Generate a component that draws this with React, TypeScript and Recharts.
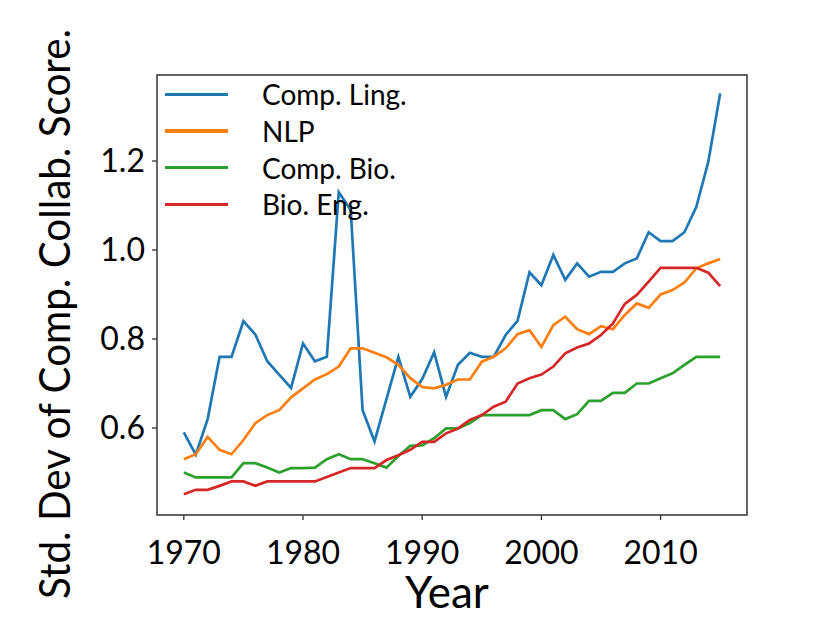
import { LineChart, Line, XAxis, YAxis, Legend, ReferenceArea } from 'recharts';

const years = [
    1970, 1971, 1972, 1973, 1974, 1975, 1976, 1977, 1978, 1979,
    1980, 1981, 1982, 1983, 1984, 1985, 1986, 1987, 1988, 1989,
    1990, 1991, 1992, 1993, 1994, 1995, 1996, 1997, 1998, 1999,
    2000, 2001, 2002, 2003, 2004, 2005, 2006, 2007, 2008, 2009,
    2010, 2011, 2012, 2013, 2014, 2015,
];

const compLing = [
    0.59, 0.54, 0.62, 0.76, 0.76, 0.84, 0.81, 0.75, 0.72, 0.69,
    0.79, 0.75, 0.76, 1.13, 1.09, 0.64, 0.57, 0.665, 0.76, 0.67,
    0.71, 0.77, 0.67, 0.742, 0.769, 0.76, 0.76, 0.809, 0.841, 0.95,
    0.921, 0.989, 0.933, 0.97, 0.94, 0.951, 0.951, 0.97, 0.981, 1.04,
    1.02, 1.02, 1.04, 1.097, 1.198, 1.352,
];

const nlp = [
    0.53, 0.541, 0.58, 0.551, 0.541, 0.573, 0.611, 0.629, 0.64, 0.669,
    0.689, 0.709, 0.721, 0.738, 0.779, 0.779, 0.769, 0.759, 0.742, 0.712,
    0.692, 0.689, 0.697, 0.709, 0.709, 0.749, 0.76, 0.779, 0.811, 0.82,
    0.782, 0.831, 0.85, 0.822, 0.811, 0.829, 0.822, 0.854, 0.88, 0.87,
    0.9, 0.91, 0.927, 0.959, 0.97, 0.98,
];

const compBio = [
    0.5, 0.489, 0.489, 0.489, 0.489, 0.521, 0.521, 0.511, 0.5, 0.51,
    0.51, 0.511, 0.53, 0.541, 0.53, 0.53, 0.521, 0.511, 0.537, 0.56,
    0.561, 0.577, 0.599, 0.599, 0.611, 0.629, 0.629, 0.629, 0.629, 0.629,
    0.64, 0.64, 0.62, 0.631, 0.661, 0.661, 0.679, 0.679, 0.7, 0.7,
    0.712, 0.723, 0.742, 0.76, 0.76, 0.76,
];

const bioEng = [
    0.451, 0.461, 0.461, 0.47, 0.48, 0.48, 0.47, 0.48, 0.48, 0.48,
    0.48, 0.48, 0.49, 0.5, 0.51, 0.51, 0.51, 0.528, 0.539, 0.551,
    0.569, 0.569, 0.588, 0.599, 0.618, 0.629, 0.648, 0.659, 0.7, 0.712,
    0.72, 0.738, 0.768, 0.781, 0.79, 0.809, 0.835, 0.879, 0.899, 0.929,
    0.96, 0.96, 0.96, 0.96, 0.949, 0.919,
];

const xTicks = [1970, 1980, 1990, 2000, 2010];
const yTicks = [0.6, 0.8, 1.0, 1.2];

const series = [
    { key: 'compLing', name: 'Comp. Ling.', color: '#1f77b4' },
    { key: 'nlp', name: 'NLP', color: '#ff7f0e' },
    { key: 'compBio', name: 'Comp. Bio.', color: '#2ca02c' },
    { key: 'bioEng', name: 'Bio. Eng.', color: '#d62728' },
];

const data = years.map((year, i) => ({
    year,
    compLing: compLing[i],
    nlp: nlp[i],
    compBio: compBio[i],
    bioEng: bioEng[i],
}));

const FONT = 'Lato, "Open Sans", sans-serif';
const xDomain = [1967.75, 2017.25];
const yDomain = [0.4045, 1.3933];

const renderLegend = () => (
    <div style={{ fontFamily: FONT }}>
        {series.map((s) => (
            <div key={s.key} style={{ display: 'flex', alignItems: 'center', height: 36.7 }}>
                <div style={{ width: 63, height: 3.3, background: s.color }} />
                <span style={{ marginLeft: 34, fontSize: 28, color: '#000', lineHeight: 1 }}>{s.name}</span>
            </div>
        ))}
    </div>
);

export default function App() {
    return (
        <div style={{ position: 'absolute', left: 0, top: 0, background: '#fff' }}>
            <LineChart width={830} height={642} data={data} margin={{ top: 75, right: 83, bottom: 67, left: 0 }}>
                <XAxis
                    dataKey="year"
                    type="number"
                    domain={xDomain}
                    ticks={xTicks}
                    interval={0}
                    allowDataOverflow
                    height={60}
                    axisLine={false}
                    tickSize={5}
                    tickMargin={21}
                    tickLine={{ stroke: '#333', strokeWidth: 1.3 }}
                    tick={{ fontSize: 32, fill: '#000', fontFamily: FONT }}
                    label={{
                        content: () => (
                            <text x={447} y={608} textAnchor="middle" fontSize={44} fontFamily={FONT} fill="#000">
                                Year
                            </text>
                        ),
                    }}
                />
                <YAxis
                    type="number"
                    domain={yDomain}
                    ticks={yTicks}
                    interval={0}
                    allowDataOverflow
                    width={157}
                    axisLine={false}
                    tickSize={5}
                    tickMargin={7}
                    tickLine={{ stroke: '#333', strokeWidth: 1.3 }}
                    tickFormatter={(v) => v.toFixed(1)}
                    tick={{ fontSize: 32, fill: '#000', fontFamily: FONT }}
                    label={{
                        content: () => (
                            <text
                                x={70}
                                y={314}
                                transform="rotate(-90 70 314)"
                                textAnchor="middle"
                                fontSize={43}
                                fontFamily={FONT}
                                fill="#000"
                                textLength={570}
                                lengthAdjust="spacingAndGlyphs"
                            >
                                Std. Dev of Comp. Collab. Score.
                            </text>
                        ),
                    }}
                />
                <ReferenceArea
                    x1={xDomain[0]}
                    x2={xDomain[1]}
                    y1={yDomain[0]}
                    y2={yDomain[1]}
                    fill="none"
                    stroke="#333"
                    strokeWidth={1.5}
                    ifOverflow="visible"
                />
                {series.map((s) => (
                    <Line
                        key={s.key}
                        type="linear"
                        dataKey={s.key}
                        name={s.name}
                        stroke={s.color}
                        strokeWidth={2.7}
                        dot={false}
                        activeDot={false}
                        isAnimationActive={false}
                    />
                ))}
                <Legend
                    layout="vertical"
                    verticalAlign="middle"
                    align="center"
                    content={renderLegend}
                    wrapperStyle={{ position: 'absolute', left: 165, top: 76, width: 260 }}
                />
            </LineChart>
        </div>
    );
}
